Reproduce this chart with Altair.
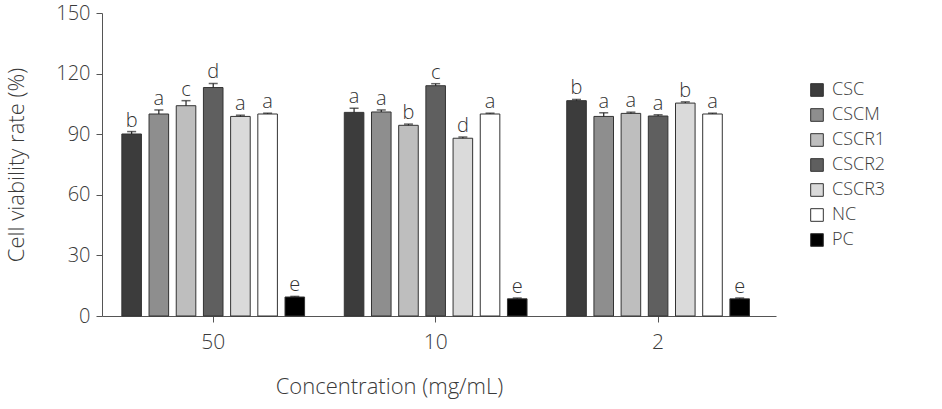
import altair as alt
import pandas as pd

concentrations = ["50", "10", "2"]
groups = ["CSC", "CSCM", "CSCR1", "CSCR2", "CSCR3", "NC", "PC"]
colors = ["#3c3c3c", "#8e8e8e", "#bebebe", "#5f5f5f", "#dadada", "#ffffff", "#000000"]

values_50 = [90.1, 100.0, 104.1, 113.1, 98.8, 100.0, 9.4]
values_10 = [100.8, 101.0, 94.4, 114.0, 88.0, 100.0, 8.5]
values_2 = [106.6, 98.8, 100.3, 99.0, 105.4, 100.0, 8.5]

errors_50 = [1.2, 2.0, 2.5, 2.0, 0.6, 0.4, 0.3]
errors_10 = [2.0, 1.0, 0.6, 1.0, 0.6, 0.4, 0.4]
errors_2 = [0.6, 1.8, 0.6, 0.6, 0.6, 0.4, 0.4]

letters_50 = ["b", "a", "c", "d", "a", "a", "e"]
letters_10 = ["a", "a", "b", "c", "d", "a", "e"]
letters_2 = ["b", "a", "a", "a", "b", "a", "e"]

rows = []
for conc, vals, errs, lets in [
    ("50", values_50, errors_50, letters_50),
    ("10", values_10, errors_10, letters_10),
    ("2", values_2, errors_2, letters_2),
]:
    for g, v, e, l in zip(groups, vals, errs, lets):
        rows.append({"Concentration": conc, "Group": g, "Value": v,
                     "Upper": v + e, "Letter": l})
df = pd.DataFrame(rows)

FONT = "Open Sans"
TXT = "#3a3a3a"

x_enc = alt.X("Concentration:N", sort=concentrations,
              scale=alt.Scale(paddingInner=0, paddingOuter=0.015, align=0),
              axis=alt.Axis(title="Concentration (mg/mL)", labelAngle=0,
                            labelFontSize=21, titleFontSize=22,
                            labelPadding=9, titlePadding=24, titleX=287,
                            tickSize=6, domainColor="#555", tickColor="#555",
                            labelColor=TXT, titleColor=TXT,
                            labelFont=FONT, titleFont=FONT, labelFontWeight=300,
                            titleFontWeight=300, grid=False))
xo_enc = alt.XOffset("Group:N", sort=groups,
                     scale=alt.Scale(paddingInner=0.28, paddingOuter=0.73))

y_scale = alt.Scale(domain=[0, 150], nice=False)

bars = alt.Chart(df).mark_bar(stroke="#333333", strokeWidth=1).encode(
    x=x_enc,
    xOffset=xo_enc,
    y=alt.Y("Value:Q", scale=y_scale,
            axis=alt.Axis(title="Cell viability rate (%)", values=[0, 30, 60, 90, 120, 150],
                          grid=False, labelFontSize=20, titleFontSize=22,
                          tickSize=6, labelPadding=6, titlePadding=27,
                          domainColor="#555", tickColor="#555",
                          labelColor=TXT, titleColor=TXT,
                          labelFont=FONT, titleFont=FONT, labelFontWeight=300,
                          titleFontWeight=300)),
    fill=alt.Fill("Group:N", sort=groups,
                  scale=alt.Scale(domain=groups, range=colors),
                  legend=alt.Legend(title=None, orient="none", legendX=706, legendY=68,
                                    symbolType="square", symbolSize=160,
                                    symbolStrokeColor="#333333", symbolStrokeWidth=1,
                                    labelFontSize=18, labelFont=FONT, labelColor=TXT,
                                    labelFontWeight=300,
                                    rowPadding=7, labelOffset=6)),
)

err_rule = alt.Chart(df).mark_rule(color="#222222", strokeWidth=1.2).encode(
    x=alt.X("Concentration:N", sort=concentrations),
    xOffset=alt.XOffset("Group:N", sort=groups),
    y=alt.Y("Value:Q", scale=y_scale),
    y2="Upper:Q",
)

err_cap = alt.Chart(df).mark_tick(color="#222222", thickness=1.5, size=9).encode(
    x=alt.X("Concentration:N", sort=concentrations),
    xOffset=alt.XOffset("Group:N", sort=groups),
    y=alt.Y("Upper:Q", scale=y_scale),
)

labels = alt.Chart(df).mark_text(baseline="bottom", dy=-1, fontSize=20,
                                 font=FONT, color="#333333", fontWeight=300).encode(
    x=alt.X("Concentration:N", sort=concentrations),
    xOffset=alt.XOffset("Group:N", sort=groups),
    y=alt.Y("Upper:Q", scale=y_scale),
    text="Letter:N",
)

chart = alt.layer(bars, err_rule, err_cap, labels).properties(
    width=674, height=303,
    autosize=alt.AutoSizeParams(type="none"),
    padding={"left": 102, "top": 13, "right": 166, "bottom": 93},
).configure(background="white").configure_view(stroke=None, strokeWidth=0).configure_axis(grid=False)

chart.save("out.html", embed_options={"renderer": "svg", "actions": False})
